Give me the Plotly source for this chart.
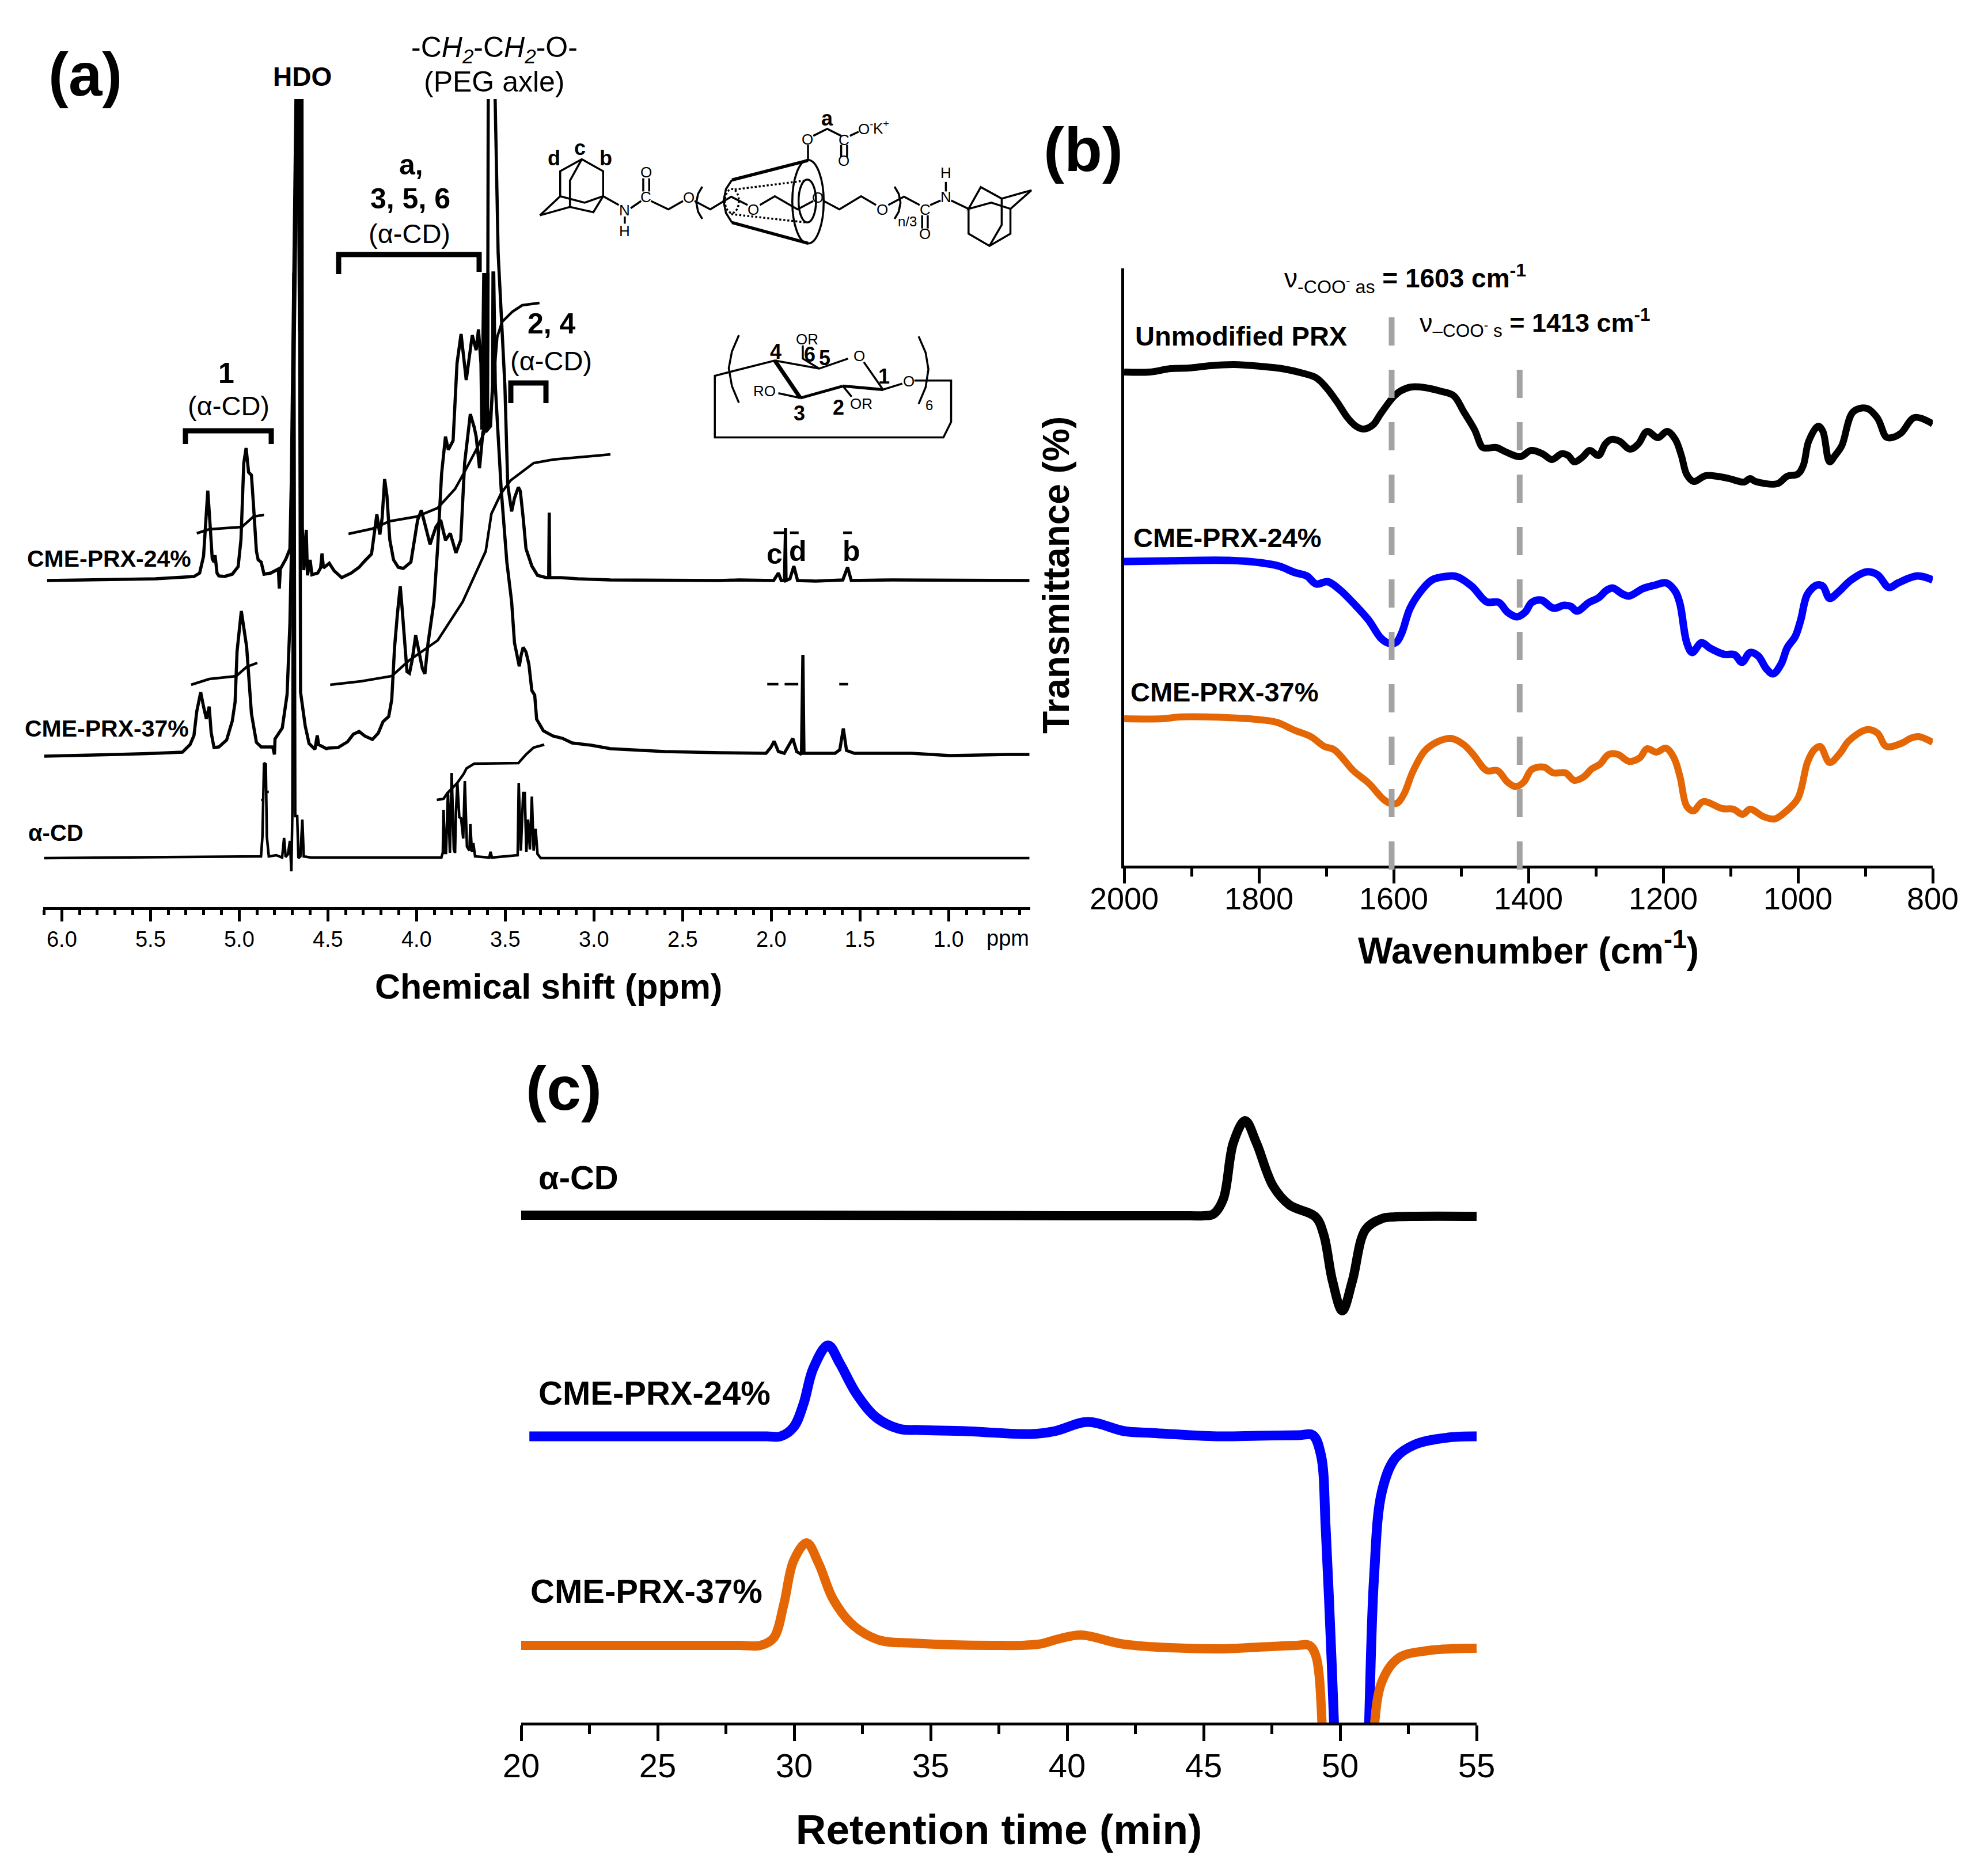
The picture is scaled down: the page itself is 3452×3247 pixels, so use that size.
import plotly.graph_objects as go

W = 3452
H = 3247
PAGE_PAD = 8  # browser body margin around the plot
FONT = "Liberation Sans"
BLUE = "#0000FF"
ORANGE = "#E46604"
GRAY = "#A3A3A3"

# ---- panel (a) 1H NMR, signal in arbitrary units, None = peak runs off the top
NMR_24_PPM = [6.083, 5.905, 5.688, 5.472, 5.255, 5.223, 5.201, 5.190, 5.177, 5.163, 5.152, 5.142, 5.136, 5.125, 5.115,
              5.082, 5.039, 5.006, 4.990, 4.974, 4.961, 4.947, 4.931, 4.920, 4.903, 4.893, 4.876, 4.860, 4.822, 4.779,
              4.774, 4.768, 4.736, 4.714, 4.706, 4.680, None, 4.668, 4.660, 4.655, None, 4.646, 4.644, 4.636, 4.622,
              4.615, 4.600, 4.590, 4.557, 4.541, 4.533, 4.525, 4.492, 4.465, 4.422, 4.368, 4.324, 4.292, 4.254, 4.243,
              4.224, 4.207, 4.194, 4.180, 4.167, 4.151, 4.130, 4.103, 4.075, 4.032, 4.016, 3.994, 3.973, 3.951, 3.924,
              3.891, 3.864, 3.837, 3.810, 3.778, 3.751, 3.729, 3.697, 3.675, 3.664, 3.645, 3.626, 3.608, 3.599, 3.596,
              None, 3.557, 3.540, 3.502, 3.486, 3.464, 3.448, 3.426, 3.415, 3.399, 3.383, 3.350, 3.318, 3.269, 3.255,
              3.252, 3.249, 3.188, 3.091, 2.907, 2.600, 2.290, 2.182, 2.074, 1.987, 1.960, 1.944, 1.926, 1.924, 1.920,
              1.917, 1.895, 1.873, 1.852, 1.749, 1.597, 1.570, 1.549, 1.316, 1.100, 0.883, 0.667, 0.545]
NMR_24_SIGNAL = [567, 568, 569, 570, 574, 580, 609, 667, 723, 659, 605, 599, 611, 580, 575,
                 574, 578, 591, 638, 771, 797, 755, 750, 701, 618, 603, 599, 578, 580, 587,
                 553, 587, 605, 622, 742, 1403, None, 1403, 1000, 1403, None, 1403, 659, 585, 655,
                 576, 603, 577, 580, 589, 614, 589, 597, 584, 572, 580, 590, 601, 613, 638,
                 682, 647, 676, 743, 714, 638, 603, 590, 588, 599, 630, 672, 689, 660, 630,
                 660, 672, 637, 649, 615, 637, 771, 856, 833, 817, 762, 825, 836, 982, 1403,
                 None, 1403, 1135, 905, 733, 687, 710, 729, 722, 676, 622, 592, 576, 572, 572,
                 685, 572, 572, 570, 568, 567, 567, 568, 567, 567, 580, 567, 567, 658, 658,
                 567, 570, 592, 567, 566, 568, 590, 567, 568, 568, 567, 568, 567]

NMR_37_PPM = [6.099, 5.905, 5.688, 5.472, 5.320, 5.277, 5.255, 5.239, 5.217, 5.201, 5.185, 5.169, 5.158, 5.142, 5.115,
              5.071, 5.039, 5.023, 5.012, 4.988, 4.958, 4.931, 4.903, 4.876, 4.811, 4.801, 4.798, 4.757, 4.730, 4.714,
              4.703, 4.672, None, 4.662, 4.654, 4.628, 4.606, 4.573, 4.560, 4.552, 4.508, 4.498, 4.443, 4.389, 4.357,
              4.324, 4.292, 4.249, 4.216, 4.189, 4.157, 4.140, 4.124, 4.108, 4.092, 4.081, 4.065, 4.054, 4.040, 4.024,
              4.005, 3.989, 3.967, 3.953, 3.935, 3.902, 3.881, 3.859, 3.837, 3.821, 3.794, 3.772, 3.749, 3.720, 3.702,
              3.686, 3.664, 3.651, 3.637, 3.632, 3.621, 3.614, 3.605, 3.600, 3.597, 3.610, 3.583, 3.572, 3.569, 3.565, 3.556, 3.523,
              3.491, 3.464, 3.448, 3.432, 3.421, 3.410, 3.399, 3.383, 3.367, 3.350, 3.334, 3.323, 3.285, 3.231, 3.177,
              3.123, 3.015, 2.907, 2.600, 2.290, 2.160, 2.030, 2.003, 1.984, 1.960, 1.927, 1.879, 1.857, 1.830, 1.825,
              1.822, 1.816, 1.641, 1.614, 1.594, 1.576, 1.532, 1.208, 0.991, 0.667, 0.545]
NMR_37_SIGNAL = [262, 263, 265, 267, 269, 282, 298, 340, 373, 348, 327, 348, 303, 277, 278,
                 290, 323, 356, 444, 514, 452, 336, 286, 278, 278, 265, 292, 311, 369, 493,
                 659, 1403, None, 1403, 373, 315, 284, 274, 298, 282, 275, 276, 277, 287, 300,
                 305, 297, 291, 302, 322, 331, 360, 451, 509, 557, 517, 459, 409, 406, 430,
                 472, 447, 414, 405, 459, 530, 625, 752, 817, 794, 810, 944, 995, 915, 955,
                 993, 967, 1003, 944, 829, 1101, 829, 1101, 829, 1101, 825, 835, 905, 1101, 1101, 905, 726,
                 599, 530, 459, 430, 418, 438, 451, 443, 422, 376, 368, 326, 306, 297, 293,
                 285, 281, 275, 270, 268, 267, 267, 277, 288, 270, 267, 293, 270, 265, 438,
                 438, 267, 267, 273, 310, 272, 267, 267, 263, 265, 265]

NMR_CD_PPM = [6.100, 4.877, 4.869, 4.860, 4.850, 4.844, 4.833, 4.790, 4.758, 4.747, 4.738, 4.725, 4.714, 4.706, 4.700,
              4.694, 4.690, 4.684, 4.673, 4.666, 4.655, 4.644, 4.636, 4.595, 3.860, 3.852, 3.848, 3.840, 3.834, 3.823,
              3.812, 3.802, 3.790, 3.783, 3.778, 3.770, 3.759, 3.749, 3.737, 3.728, 3.716, 3.702, 3.697, 3.688, 3.680,
              3.670, 3.590, 3.583, 3.575, 3.430, 3.424, 3.412, 3.399, 3.390, 3.381, 3.372, 3.361, 3.350, 3.340, 3.329,
              3.318, 3.300, 0.545]
NMR_CD_SIGNAL = [85, 88, 122, 250, 248, 122, 88, 90, 86, 120, 87, 92, 115, 62, 165,
                 1099, 1099, 158, 158, 85, 88, 152, 88, 86, 86, 95, 169, 94, 94, 200,
                 94, 233, 100, 94, 165, 215, 156, 154, 119, 219, 105, 98, 144, 96, 111,
                 88, 86, 96, 86, 90, 215, 98, 198, 198, 96, 152, 100, 192, 98, 136,
                 92, 85, 85]

INT1_24_PPM = [5.239, 5.169, 4.985, 4.920, 4.860]
INT1_24_SIGNAL = [649, 656, 660, 678, 681]
INT2_24_PPM = [4.384, 4.249, 4.151, 4.000, 3.881, 3.783, 3.729, 3.664, 3.610, 3.578, 3.545, 3.518, 3.459, 3.404, 3.307]
INT2_24_SIGNAL = [648, 657, 670, 678, 693, 726, 756, 794, 829, 867, 990, 1016, 1034, 1045, 1049]
INT1_37_PPM = [5.271, 5.169, 5.017, 4.958, 4.898]
INT1_37_SIGNAL = [386, 396, 401, 417, 424]
INT2_37_PPM = [4.487, 4.314, 4.140, 4.043, 3.881, 3.740, 3.610, 3.578, 3.524, 3.469, 3.340, 3.231, 2.907]
INT2_37_SIGNAL = [386, 392, 401, 428, 463, 530, 618, 683, 718, 741, 771, 777, 786]
INT_CD_PPM = [3.886, 3.848, 3.826, 3.772, 3.735, 3.718, 3.675, 3.426, 3.383, 3.340, 3.280]
INT_CD_SIGNAL = [186, 188, 198, 215, 231, 241, 249, 250, 265, 277, 282]
# short integral end marks
MARKS_PPM = [1.987, 1.927, None, 1.895, 1.846, None, 1.595, 1.546, None,
             2.023, 1.960, None, 1.925, 1.848, None, 1.617, 1.567, None,
             4.876, 4.870, None, 4.846, 4.833]
MARKS_SIGNAL = [650, 650, None, 650, 650, None, 650, 650, None,
                387, 387, None, 387, 387, None, 387, 387, None,
                186, 186, None, 200, 200]

# ---- panel (b) FTIR
IR_BLACK_WN = [2000, 1962, 1931, 1904, 1872, 1837, 1798, 1766, 1735, 1715, 1700, 1684, 1668, 1656, 1645, 1631, 1619,
               1601, 1590, 1574, 1554, 1531, 1511, 1496, 1480, 1468, 1460, 1448, 1433, 1412, 1396, 1379, 1365, 1351,
               1341, 1332, 1320, 1309, 1296, 1286, 1277, 1265, 1249, 1237, 1224, 1208, 1194, 1182, 1173, 1165, 1155,
               1137, 1120, 1102, 1080, 1071, 1063, 1031, 1016, 1000, 992, 984, 970, 963, 953, 945, 935, 918, 898, 882,
               869, 861, 847, 827, 800]
IR_BLACK_T = [857, 857, 863, 864, 868, 870, 867, 863, 855, 847, 830, 805, 777, 763, 758, 765, 785,
              813, 824, 831, 830, 824, 816, 788, 757, 726, 725, 726, 718, 710, 721, 715, 705, 715,
              712, 701, 709, 721, 712, 732, 740, 737, 723, 732, 754, 743, 754, 740, 712, 679, 667,
              677, 676, 672, 666, 672, 667, 663, 676, 680, 695, 737, 763, 754, 701, 712, 729, 788, 794, 777,
              744, 743, 751, 778, 767]
IR_BLUE_WN = [2000, 1943, 1845, 1798, 1770, 1747, 1729, 1715, 1698, 1680, 1656, 1637, 1619, 1607, 1596, 1588, 1576,
              1560, 1543, 1523, 1507, 1484, 1462, 1444, 1431, 1417, 1405, 1395, 1381, 1363, 1347, 1337, 1328, 1310,
              1296, 1284, 1275, 1261, 1251, 1230, 1212, 1196, 1182, 1175, 1165, 1157, 1143, 1131, 1110, 1094, 1083,
              1071, 1059, 1047, 1037, 1025, 1016, 1004, 996, 986, 972, 963, 953, 941, 921, 898, 882, 865, 851, 823, 800]
IR_BLUE_T = [528, 529, 530, 526, 520, 509, 503, 489, 493, 479, 451, 426, 395, 386, 388, 404, 446,
             476, 496, 502, 502, 485, 458, 457, 440, 432, 440, 457, 461, 447, 452, 450, 442, 457,
             465, 478, 482, 472, 468, 481, 487, 491, 476, 454, 387, 370, 387, 378, 367, 366, 353,
             370, 364, 342, 333, 350, 378, 398, 426, 471, 487, 485, 464, 474, 496, 510, 505, 483, 491, 503, 496]
IR_ORANGE_WN = [2000, 1943, 1919, 1872, 1805, 1774, 1747, 1723, 1703, 1688, 1660, 1637, 1615, 1605, 1594, 1584, 1572,
                1554, 1535, 1515, 1496, 1482, 1462, 1446, 1431, 1419, 1407, 1395, 1377, 1363, 1345, 1332, 1318, 1306,
                1294, 1281, 1267, 1251, 1235, 1224, 1210, 1196, 1184, 1175, 1165, 1155, 1141, 1112, 1096, 1082, 1071,
                1051, 1035, 1020, 1000, 986, 976, 967, 953, 937, 925, 898, 882, 869, 847, 833, 821, 800]
IR_ORANGE_T = [255, 255, 258, 258, 254, 249, 235, 224, 207, 201, 165, 143, 115, 108, 109, 126, 162,
               199, 215, 221, 210, 193, 165, 165, 145, 137, 145, 167, 171, 161, 161, 148, 154, 168,
               176, 193, 193, 181, 187, 203, 197, 204, 187, 154, 103, 95, 111, 99, 98, 89, 98,
               85, 81, 92, 117, 179, 201, 207, 179, 196, 216, 236, 230, 207, 212, 221, 224, 214]
BAND_WN = [1603, 1413]

# ---- panel (c) GPC, None splits the curve where it leaves through the axis
GPC_CD_TIME = [20, 30, 40, 44.5, 45, 45.36, 45.72, 46.09, 46.52, 46.93, 47.54, 48.14, 49.1, 49.4, 49.72, 50.08, 50.45,
               50.93, 51.53, 52.0, 52.75, 55]
GPC_CD_SIGNAL = [881, 881, 880, 880, 880, 883, 909, 1007, 1045, 1007, 932, 899, 878, 847, 767, 715, 767,
                 856, 875, 878, 879, 879]
GPC_24_TIME = [20.3, 22, 25, 28, 29, 29.5, 29.98, 30.34, 30.7, 31.24, 31.67, 32.28, 33.0, 33.85, 34.58, 36.28, 38.7,
               39.55, 40.76, 42.09, 43.06, 45.48, 47, 48.5, 49.0, 49.3, 49.47, 49.64, 49.79, 49.83, None,
               50.99, 51.05, 51.24, 51.53, 52.02, 52.75, 53.96, 55]
GPC_24_SIGNAL = [497, 497, 497, 497, 497, 497, 513, 553, 615, 655, 624, 571, 530, 510, 508, 506, 501,
                 506, 522, 506, 503, 497, 498, 499, 499, 464, 339, 161, -18, -100, None,
                 -100, -18, 250, 401, 459, 483, 495, 497]
GPC_37_TIME = [20, 24, 27, 28, 28.77, 29.25, 29.62, 29.98, 30.46, 30.9, 31.43, 32.16, 33.13, 34.34, 37.24, 38.94,
               39.67, 40.51, 42.09, 45.48, 47, 48.4, 48.87, 49.11, 49.35, 49.38, None,
               51.19, 51.24, 51.53, 52.14, 53.23, 55]
GPC_37_SIGNAL = [134, 134, 134, 134, 134, 147, 205, 281, 312, 276, 214, 169, 143, 138, 134, 136,
                 145, 152, 136, 128, 131, 134, 134, 116, -15, -80, None,
                 -80, -15, 71, 112, 125, 129]


def px(x, y):
    return (x - PAGE_PAD) / W, 1 - (y - PAGE_PAD) / H


annotations = []
shapes = []


def label(x, y, text, size, bold=False, anchor="center", angle=0):
    fx, fy = px(x, y)
    annotations.append(dict(x=fx, y=fy, xref="paper", yref="paper", text="<b>" + text + "</b>" if bold else text,
                            showarrow=False, xanchor=anchor, yanchor="middle", textangle=angle,
                            font=dict(family=FONT, size=size, color="black")))


def poly(points, width=4, dash=None):
    d = ""
    for i, (x, y) in enumerate(points):
        fx, fy = px(x, y)
        d += ("M" if i == 0 else "L") + " %.5f %.5f " % (fx, fy)
    shapes.append(dict(type="path", path=d, xref="paper", yref="paper",
                       line=dict(color="black", width=width, dash=dash or "solid")))


# molecule sketches were read in a stretched crop, so they get their own little mapping
def mx(d):
    return 900 + d / 1.65


def my(d):
    return 150 + d / 2.412


def mol(points, width=3.5, dash=None):
    poly([(mx(a), my(b)) for a, b in points], width, dash)


def ellipse(cx, cy, rx, ry, width=3.5, dash=None):
    x0, y0 = px(mx(cx - rx), my(cy + ry))
    x1, y1 = px(mx(cx + rx), my(cy - ry))
    shapes.append(dict(type="circle", xref="paper", yref="paper", x0=x0, y0=y0, x1=x1, y1=y1,
                       line=dict(color="black", width=width, dash=dash or "solid")))


def mtext(d_x, d_y, text, size=26, bold=False):
    label(mx(d_x), my(d_y), text, size, bold)


fig = go.Figure()


def add(x, y, width, color="black", xa="x", ya="y", shape="linear"):
    fig.add_trace(go.Scatter(x=x, y=y, mode="lines", xaxis=xa, yaxis=ya, showlegend=False, hoverinfo="skip",
                             line=dict(color=color, width=width, shape=shape)))


add(NMR_24_PPM, NMR_24_SIGNAL, 5.5)
add(NMR_37_PPM, NMR_37_SIGNAL, 5.5)
add(NMR_CD_PPM, NMR_CD_SIGNAL, 4.5)
for a, b in [(INT1_24_PPM, INT1_24_SIGNAL), (INT2_24_PPM, INT2_24_SIGNAL), (INT1_37_PPM, INT1_37_SIGNAL),
             (INT2_37_PPM, INT2_37_SIGNAL), (INT_CD_PPM, INT_CD_SIGNAL)]:
    add(a, b, 4.5)
add(MARKS_PPM, MARKS_SIGNAL, 4.5)

add(IR_BLACK_WN, IR_BLACK_T, 12, "black", "x2", "y2", "spline")
add(IR_BLUE_WN, IR_BLUE_T, 13, BLUE, "x2", "y2", "spline")
add(IR_ORANGE_WN, IR_ORANGE_T, 12, ORANGE, "x2", "y2", "spline")

add(GPC_CD_TIME, GPC_CD_SIGNAL, 16, "black", "x3", "y3", "spline")
add(GPC_24_TIME, GPC_24_SIGNAL, 17, BLUE, "x3", "y3", "spline")
add(GPC_37_TIME, GPC_37_SIGNAL, 16, ORANGE, "x3", "y3", "spline")

# dashed marks for the carboxylate bands, they run a bit past the axis
for wn, top in zip(BAND_WN, [551, 642]):
    shapes.append(dict(type="line", xref="x2", yref="paper", x0=wn, x1=wn, y0=px(0, top)[1], y1=px(0, 1511)[1],
                       line=dict(color=GRAY, width=10, dash="49px,42px")))

# brackets
poly([(322, 771), (322, 748), (471, 748), (471, 771)], 9)
poly([(588, 476), (588, 442), (832, 442), (832, 472)], 9)
poly([(887, 700), (887, 665), (948, 665), (948, 700)], 9)

# panel letters
label(148, 130, "(a)", 105, True)
label(1881, 259, "(b)", 108, True)
label(979, 1890, "(c)", 108, True)

# panel a text
label(525, 133, "HDO", 46, True)
label(858, 86, "-C<i>H<sub>2</sub></i>-C<i>H<sub>2</sub></i>-O-", 50)
label(858, 142, "(PEG axle)", 50)
label(714, 286, "a,", 50, True)
label(712, 345, "3, 5, 6", 50, True)
label(711, 405, "(α-CD)", 47)
label(393, 648, "1", 50, True)
label(397, 704, "(α-CD)", 47)
label(958, 562, "2, 4", 50, True)
label(957, 627, "(α-CD)", 47)
label(45, 970, "CME-PRX-24%", 41, True, "left")
label(41, 1265, "CME-PRX-37%", 41, True, "left")
label(47, 1446, "α-CD", 40, True, "left")
label(1345, 962, "c", 50, True)
label(1385, 957, "d", 50, True)
label(1478, 957, "b", 50, True)
label(1750, 1629, "ppm", 38)
label(952, 1713, "Chemical shift (ppm)", 61, True)

# panel b text
label(2440, 483, "ν<sub>-COO<sup>-</sup> as</sub> <b>= 1603 cm<sup>-1</sup></b>", 46)
label(2665, 560, "ν<sub>–COO<sup>-</sup> s</sub> <b>= 1413 cm<sup>-1</sup></b>", 45)
label(1969, 583, "Unmodified PRX", 47, True, "left")
label(1966, 934, "CME-PRX-24%", 47, True, "left")
label(1961, 1202, "CME-PRX-37%", 47, True, "left")
label(1834, 999, "Transmittance (%)", 64, True, angle=-90)

# panel c text
label(933, 2044, "α-CD", 58, True, "left")
label(933, 2418, "CME-PRX-24%", 58, True, "left")
label(919, 2762, "CME-PRX-37%", 58, True, "left")

# rotaxane sketch
mol([(62, 540), (120, 460), (120, 355), (182, 305), (243, 355), (243, 460)])
mol([(62, 540), (148, 505), (215, 527), (243, 460)])
mol([(148, 505), (148, 395), (182, 305)])
mol([(120, 460), (190, 487), (243, 460), (288, 497)])
mol([(305, 545), (305, 575)])
mol([(322, 510), (352, 480)])
mol([(358, 385), (358, 440)])
mol([(375, 385), (375, 440)])
mol([(380, 480), (430, 515), (472, 480)])
mol([(505, 480), (550, 515), (610, 462), (657, 497)])
mol([(692, 497), (735, 460), (800, 515), (845, 480)])
mol([(875, 480), (920, 515), (982, 460), (1025, 497)])
mol([(1060, 497), (1105, 462), (1150, 497)])
mol([(1157, 540), (1157, 595)])
mol([(1173, 540), (1173, 595)])
mol([(1180, 497), (1210, 478)])
mol([(1225, 400), (1225, 440)])
mol([(1240, 478), (1290, 513), (1290, 617), (1350, 668), (1410, 617), (1410, 513), (1470, 435), (1385, 470),
     (1325, 422), (1290, 513), (1355, 487), (1410, 513)])
mol([(1385, 470), (1385, 580), (1350, 668)])
mol([(527, 420), (515, 450), (510, 487), (515, 525), (527, 555)])
mol([(1078, 420), (1090, 450), (1095, 487), (1090, 525), (1078, 555)])
mol([(612, 392), (830, 310)], 5.5)
mol([(612, 570), (830, 657)], 5.5)
mol([(612, 392), (595, 430), (588, 480), (595, 530), (612, 570)])
ellipse(830, 483, 45, 175)
ellipse(828, 480, 25, 90)
ellipse(612, 480, 20, 50, 3.5, "dot")
mol([(620, 432), (820, 395)], 3.5, "dot")
mol([(610, 535), (825, 570)], 3.5, "dot")
mol([(830, 305), (830, 245)])
mol([(845, 207), (885, 178), (925, 207)])
mol([(925, 245), (925, 295)])
mol([(942, 245), (942, 295)])
mol([(950, 207), (975, 190)])
for a, b, t in [(305, 518, "N"), (305, 605, "H"), (366, 462, "C"), (366, 360, "O"), (488, 465, "O"), (673, 515, "O"),
                (858, 465, "O"), (1042, 515, "O"), (1165, 515, "C"), (1165, 618, "O"), (1225, 462, "N"),
                (1225, 363, "H"), (828, 222, "O"), (933, 225, "C"), (933, 312, "O"),
                (995, 175, "O<sup>-</sup>"), (1040, 172, "K<sup>+</sup>")]:
    mtext(a, b, t)
mtext(1115, 565, "n/3", 24)
mtext(885, 135, "a", 36, True)
mtext(102, 300, "d", 36, True)
mtext(177, 258, "c", 36, True)
mtext(250, 300, "b", 36, True)

# glucose unit sketch
mol([(1135, 1232), (1240, 1232), (1240, 1405), (1218, 1470), (563, 1470), (563, 1212), (735, 1148), (862, 1182), (945, 1140)])
mol([(990, 1155), (1045, 1270), (1100, 1245)])
mol([(735, 1148), (808, 1305)], 7)
mol([(808, 1305), (930, 1255)], 5)
mol([(930, 1255), (1045, 1270)], 5)
mol([(745, 1285), (808, 1305)])
mol([(930, 1255), (955, 1300)])
mol([(862, 1182), (815, 1140), (815, 1085)])
mol([(632, 1042), (612, 1110), (603, 1180), (612, 1255), (632, 1325)])
mol([(1147, 1047), (1167, 1115), (1175, 1185), (1167, 1260), (1147, 1330)])
for a, b, t in [(705, 1275, "RO"), (983, 1328, "OR"), (828, 1058, "OR"), (977, 1130, "O"), (1118, 1235, "O")]:
    mtext(a, b, t)
for a, b, t in [(738, 1110, "4"), (835, 1122, "6"), (878, 1138, "5"), (1048, 1215, "1"), (805, 1368, "3"), (918, 1345, "2")]:
    mtext(a, b, t, 36, True)
mtext(1177, 1335, "6", 24)


def xdom(left, right):
    return [(left - PAGE_PAD) / W, (right - PAGE_PAD) / W]


def ydom(top, bottom):
    return [1 - (bottom - PAGE_PAD) / H, 1 - (top - PAGE_PAD) / H]


def xax(left, right, rng, dtick, tick0, minor, size, fmt, major_len, minor_len, **kw):
    return dict(domain=xdom(left, right), range=rng, dtick=dtick, tick0=tick0, tickmode="linear", tickformat=fmt,
                automargin=False, showline=True, linecolor="black", linewidth=5, ticks="outside", ticklen=major_len,
                tickwidth=5, tickcolor="black", showgrid=False, zeroline=False,
                tickfont=dict(family=FONT, size=size, color="black"),
                minor=dict(dtick=minor, ticks="outside", ticklen=minor_len, tickwidth=5, tickcolor="black", showgrid=False),
                **kw)


layout = dict(
    width=W, height=H, autosize=False, margin=dict(l=0, r=0, t=0, b=0, pad=0),
    paper_bgcolor="white", plot_bgcolor="white", showlegend=False,
    xaxis=xax(75, 1789, [6.105, 0.54], 0.5, 1.0, 0.1, 38, ".1f", 20, 9, anchor="y", ticklabelstandoff=-2),
    yaxis=dict(domain=ydom(8, 1575), range=[0, 1567], visible=False, anchor="x", automargin=False),
    xaxis2=xax(1952, 3356, [2000, 800], 200, 800, 100, 54, "d", 26, 14, anchor="y2", ticklabelstandoff=-20,
               title=dict(text="<b>Wavenumber (cm<sup>-1</sup>)</b>", font=dict(family=FONT, size=64, color="black"), standoff=41)),
    yaxis2=dict(domain=ydom(466, 1503), range=[0, 1037], anchor="x2", showline=True, linecolor="black", automargin=False,
                linewidth=5, showticklabels=False, ticks="", showgrid=False, zeroline=False),
    xaxis3=xax(905, 2564, [20, 55], 5, 20, 2.5, 58, "d", 27, 15, anchor="y3", ticklabelstandoff=-7,
               title=dict(text="<b>Retention time (min)</b>", font=dict(family=FONT, size=73, color="black"), standoff=56)),
    yaxis3=dict(domain=ydom(1850, 2991), range=[0, 1141], visible=False, anchor="x3", automargin=False),
    annotations=annotations, shapes=shapes,
)
fig.update_layout(**layout)

fig.write_html("out.html")
